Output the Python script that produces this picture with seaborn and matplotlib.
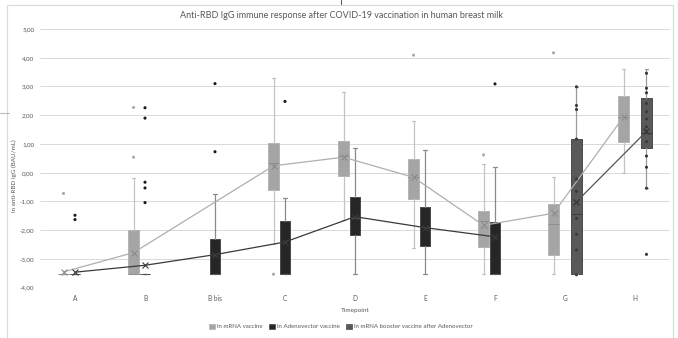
import numpy as np
import pandas as pd
import matplotlib
matplotlib.use("Agg")
import matplotlib.pyplot as plt
from matplotlib.patches import Rectangle, Patch
from matplotlib.lines import Line2D
import seaborn as sns

# ---------------- data ----------------
categories = ["A", "B", "B bis", "C", "D", "E", "F", "G", "H"]

mrna_cats   = ["A", "B", "C", "D", "E", "F", "G", "H"]
mrna_whislo = [-3.52, -3.52, -2.47, -1.65, -2.62, -3.52, -3.52, -0.02]
mrna_q1     = [-3.52, -3.52, -0.60, -0.10, -0.91, -2.58, -2.85, 1.06]
mrna_med    = [-3.52, -3.52, 0.35, 0.58, -0.14, -1.67, -1.78, 1.94]
mrna_q3     = [-3.52, -2.00, 1.04, 1.10, 0.48, -1.32, -1.09, 2.66]
mrna_whishi = [-3.52, -0.17, 3.29, 2.82, 1.80, 0.29, -0.15, 3.61]
mrna_mean   = [-3.45, -2.78, 0.24, 0.54, -0.16, -1.83, -1.41, 1.94]
mrna_out_cat = ["A", "B", "B", "C", "E", "F", "G"]
mrna_out_val = [-0.72, 0.54, 2.27, -3.53, 4.09, 0.62, 4.17]

adeno_cats   = ["A", "B", "B bis", "C", "D", "E", "F"]
adeno_whislo = [-3.52, -3.52, -3.52, -3.52, -3.52, -3.52, -3.52]
adeno_q1     = [-3.52, -3.52, -3.52, -3.52, -2.16, -2.56, -3.52]
adeno_med    = [-3.52, -3.52, -3.52, -3.52, -1.57, -1.90, -3.52]
adeno_q3     = [-3.52, -3.52, -2.30, -1.69, -0.83, -1.19, -1.71]
adeno_whishi = [-3.52, -3.52, -0.73, -0.87, 0.87, 0.79, 0.20]
adeno_mean   = [-3.46, -3.22, -2.85, -2.41, -1.53, -1.91, -2.23]
adeno_out_cat = ["A", "A", "B", "B", "B", "B", "B", "B bis", "B bis", "C", "F"]
adeno_out_val = [-1.48, -1.63, -0.33, -0.53, -1.04, 2.26, 1.90, 3.10, 0.73, 2.48, 3.09]

boost_cats   = ["G", "H"]
boost_whislo = [-3.52, -0.54]
boost_q1     = [-3.52, 0.85]
boost_med    = [-1.44, 1.37]
boost_q3     = [1.17, 2.61]
boost_whishi = [2.99, 3.61]
boost_mean   = [-1.01, 1.44]
boost_pt_cat = ["G"] * 10 + ["H"] * 12
boost_pt_val = [2.99, 2.34, 2.20, 1.17, -0.22, -0.65, -1.59, -2.14, -2.69, -3.55,
                3.46, 2.94, 2.78, 2.41, 2.12, 1.87, 1.60, 1.08, 0.58, 0.19, -0.54, -2.84]

series_names = ["ln mRNA vaccine", "ln Adenovector vaccine",
                "ln mRNA booster vaccine after Adenovector"]

# ---------------- style ----------------
box_face  = ["#A5A5A5", "#262626", "#595959"]
box_edge  = ["#B4B4B4", "#4A4A4A", "#4A4A4A"]
whisk_col = ["#C4C4C4", "#8A8A8A", "#9A9A9A"]
med_col   = ["#8E8E8E", "#555555", "#3E3E3E"]
line_col  = ["#AFAFAF", "#3A3A3A", "#555555"]
mark_col  = ["#8A8A8A", "#3A3A3A", "#333333"]
pt_col    = ["#ABABAB", "#1A1A1A", "#3A3A3A"]
offsets = [-0.164, 0.0, 0.164]
bw = 0.157
txt = "#595959"

sns.set_theme(style="white")
plt.rcParams["font.family"] = ["Lato", "DejaVu Sans"]

W, H = 678, 338
fig = plt.figure(figsize=(W / 100, H / 100), dpi=100)
ax = fig.add_axes([40 / W, 1 - 287.7 / H, 630 / W, (287.7 - 29) / H])

cat_idx = {c: i for i, c in enumerate(categories)}


def draw_boxes(k, cats, lo, q1, med, q3, hi):
    stats = []
    pos = []
    for c, a, b, m, d, e in zip(cats, lo, q1, med, q3, hi):
        stats.append(dict(whislo=a, q1=b, med=m, q3=d, whishi=e, fliers=[]))
        pos.append(cat_idx[c] + offsets[k])
    ax.bxp(stats, positions=pos, widths=bw, patch_artist=True, showfliers=False,
           capwidths=0.05, manage_ticks=False,
           boxprops=dict(facecolor=box_face[k], edgecolor=box_edge[k], linewidth=0.7),
           whiskerprops=dict(color=whisk_col[k], linewidth=0.9),
           capprops=dict(color=whisk_col[k], linewidth=0.9),
           medianprops=dict(color=med_col[k], linewidth=0.7))


for g in range(-4, 6):
    ax.axhline(g, color="#D9D9D9", lw=0.7, zorder=0)

draw_boxes(0, mrna_cats, mrna_whislo, mrna_q1, mrna_med, mrna_q3, mrna_whishi)
draw_boxes(1, adeno_cats, adeno_whislo, adeno_q1, adeno_med, adeno_q3, adeno_whishi)
draw_boxes(2, boost_cats, boost_whislo, boost_q1, boost_med, boost_q3, boost_whishi)

# mean lines
means = pd.concat([
    pd.DataFrame({"cat": mrna_cats, "mean": mrna_mean, "series": series_names[0]}),
    pd.DataFrame({"cat": adeno_cats, "mean": adeno_mean, "series": series_names[1]}),
    pd.DataFrame({"cat": boost_cats, "mean": boost_mean, "series": series_names[2]}),
], ignore_index=True)
means["pos"] = [cat_idx[c] + offsets[series_names.index(s)]
                for c, s in zip(means["cat"], means["series"])]
for k, name in enumerate(series_names):
    sub = means[means["series"] == name]
    sns.lineplot(data=sub, x="pos", y="mean", color=line_col[k], legend=False,
                 linewidth=0.9, marker="x", markersize=4, markeredgewidth=0.8,
                 markeredgecolor=mark_col[k], sort=False, ax=ax, zorder=5)

# points (outliers / inner points)
pts = pd.concat([
    pd.DataFrame({"cat": mrna_out_cat, "val": mrna_out_val, "series": series_names[0]}),
    pd.DataFrame({"cat": adeno_out_cat, "val": adeno_out_val, "series": series_names[1]}),
    pd.DataFrame({"cat": boost_pt_cat, "val": boost_pt_val, "series": series_names[2]}),
], ignore_index=True)
pts["pos"] = [cat_idx[c] + offsets[series_names.index(s)]
              for c, s in zip(pts["cat"], pts["series"])]
sns.scatterplot(data=pts, x="pos", y="val", hue="series", hue_order=series_names,
                palette=pt_col, legend=False, s=5, linewidth=0, ax=ax, zorder=6)

ax.set_xlim(-0.5, len(categories) - 0.5)
ax.set_ylim(-4, 5)
ax.set_xticks(range(len(categories)))
ax.set_xticklabels(categories)
ax.set_yticks(range(-4, 6))
ax.set_yticklabels([f"{v:.2f}".replace(".", ",") for v in range(-4, 6)])
ax.tick_params(axis="both", length=0, colors=txt, labelsize=4.7)
ax.tick_params(axis="y", pad=4, labelsize=4.5)
ax.tick_params(axis="x", pad=5)
for s in ax.spines.values():
    s.set_visible(False)
ax.set_xlabel("")
ax.set_ylabel("")

fig.text(14 / W, 1 - 176 / H, "ln anti-RBD IgG (BAU/mL)", rotation=90,
         ha="center", va="center", fontsize=4.5, color=txt)
fig.text(355 / W, 1 - 310.7 / H, "Timepoint", ha="center", va="center",
         fontsize=4.6, color=txt)
fig.text(341 / W, 1 - 15 / H, "Anti-RBD IgG immune response after COVID-19 vaccination in human breast milk",
         ha="center", va="center", fontsize=6.5, color=txt)

handles = [Patch(facecolor=box_face[i], edgecolor=box_edge[i], linewidth=0.5) for i in range(3)]
fig.legend(handles, series_names, loc="center", bbox_to_anchor=(341 / W, 1 - 326.5 / H),
           ncol=3, frameon=False, fontsize=4.4, labelcolor=txt, handlelength=0.9,
           handleheight=0.9, handletextpad=0.4, columnspacing=1.0)

# outer chart border and stray screenshot lines
fig.add_artist(Rectangle((7 / W, -0.05), 666 / W, 1.05 - 5 / H, transform=fig.transFigure,
                         fill=False, edgecolor="#D9D9D9", linewidth=0.8))
fig.add_artist(Line2D([0, 9 / W], [1 - 113 / H, 1 - 113 / H], transform=fig.transFigure,
                      color="#BDBDBD", linewidth=0.8))
fig.add_artist(Line2D([341 / W, 341 / W], [1, 1 - 4 / H], transform=fig.transFigure,
                      color="#595959", linewidth=0.8))

fig.savefig("out.png", dpi=100)
